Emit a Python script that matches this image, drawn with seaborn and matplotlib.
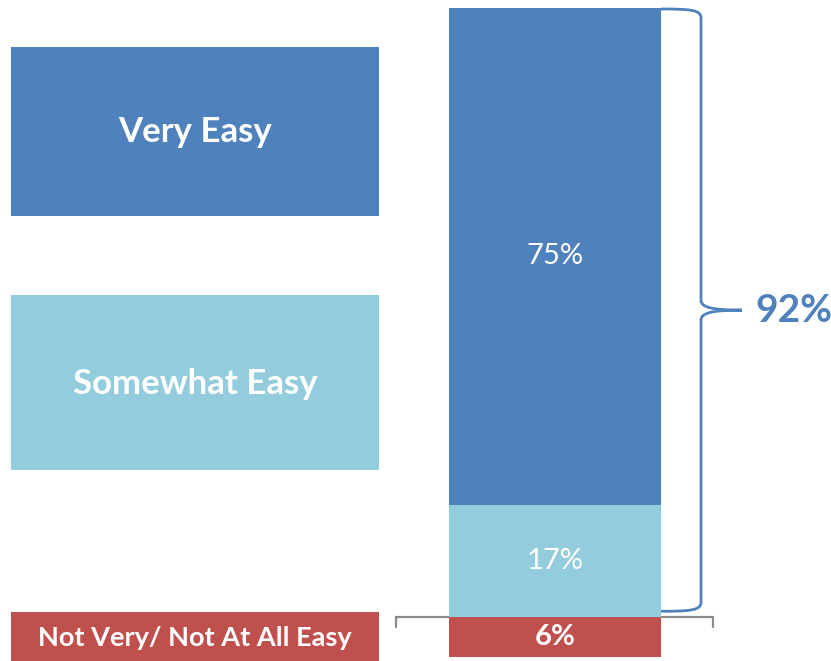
import numpy as np
import pandas as pd
import matplotlib
matplotlib.use('Agg')
import matplotlib.pyplot as plt
import seaborn as sns
from matplotlib.patches import Rectangle, PathPatch
from matplotlib.path import Path

# ── data ──────────────────────────────────────────────────────────────────────
categories = ['Very Easy', 'Somewhat Easy', 'Not Very/ Not At All Easy']
values = [75, 17, 6]
value_labels = ['75%', '17%', '6%']
colors = ['#4F81BD', '#93CDDD', '#C0504D']
net_label = '92%'   # Very + Somewhat easy

sns.set_style('white')
plt.rcParams['font.family'] = ['Lato', 'DejaVu Sans']

W, H = 831, 661
fig = plt.figure(figsize=(W / 100, H / 100), dpi=100)

# background axes in pixel coordinates for the legend boxes / brackets
bg = fig.add_axes([0, 0, 1, 1])
bg.set_xlim(0, W)
bg.set_ylim(H, 0)
bg.axis('off')

# main axes for the stacked bar
ax = fig.add_axes([0, 0, 1, 1])
ax.set_zorder(1)
ax.patch.set_visible(False)

# stacked bar: cumulative totals drawn from the bottom segment upwards
order = values[::-1]                 # 6, 17, 75 from bottom up
cum = np.cumsum(order)               # 6, 23, 98
bottoms = cum - np.array(order)
seg_colors = colors[::-1]
for total, c in sorted(zip(cum, seg_colors), reverse=True):
    sns.barplot(x=['all'], y=[total], color=c, width=0.8, saturation=1,
                linewidth=0, ax=ax)

# map the bar onto the picture: bar spans px 449-661, 98% top at px 8, base at px 657
bar_l, bar_r, top_px, base_px = 449, 661, 8, 657
xs = (bar_r - bar_l) / 0.8
xc = (bar_l + bar_r) / 2
ys = (base_px - top_px) / cum[-1]
ax.set_xlim(-xc / xs, (W - xc) / xs)
ax.set_ylim(-(H - base_px) / ys, base_px / ys)
ax.axis('off')

def to_px(v):
    return base_px - v * ys

# labels inside the bar
for b, v, lab in zip(bottoms, order, value_labels[::-1]):
    ax.text(0, b + v / 2, lab, ha='center', va='center', color='white',
            fontsize=21, fontweight='bold' if v < 10 else 'normal')

# legend boxes on the left
boxes = [(47, 216), (295, 470), (612, 662)]
sizes = [25, 25, 19.5]
for (y0, y1), name, c, fs in zip(boxes, categories, colors, sizes):
    bg.add_patch(Rectangle((11, y0), 368, y1 - y0, color=c, lw=0))
    bg.text(195, (y0 + y1) / 2 + 1, name, ha='center', va='center',
            color='white', fontsize=fs, fontweight='bold')

# gray baseline bracket at the top of the bottom segment
gy = to_px(cum[0])
bg.plot([396, 396, 713, 713], [gy + 10, gy, gy, gy + 10], color='#8C8C8C',
        lw=1.6, solid_joinstyle='miter')

# curly brace for the net "easy" share
yt = to_px(cum[-1]) + 1
yb = to_px(cum[0]) - 6
ym = (yt + yb) / 2
x0, xv, xt = bar_r, 701, 742
verts = [(x0, yt), (x0 + 30, yt), (xv, yt + 1), (xv, yt + 9),
         (xv, ym - 10),
         (xv, ym - 3), (xv + 10, ym), (xt, ym),
         (xv + 10, ym), (xv, ym + 3), (xv, ym + 10),
         (xv, yb - 9),
         (xv, yb - 1), (x0 + 30, yb), (x0, yb)]
codes = [Path.MOVETO, Path.CURVE4, Path.CURVE4, Path.CURVE4,
         Path.LINETO,
         Path.CURVE4, Path.CURVE4, Path.CURVE4,
         Path.CURVE4, Path.CURVE4, Path.CURVE4,
         Path.LINETO,
         Path.CURVE4, Path.CURVE4, Path.CURVE4]
bg.add_patch(PathPatch(Path(verts, codes), fill=False, edgecolor=colors[0], lw=2))
bg.text(755, ym, net_label, ha='left', va='center', color=colors[0],
        fontsize=28, fontweight='bold')

fig.savefig('out.png', dpi=100)
